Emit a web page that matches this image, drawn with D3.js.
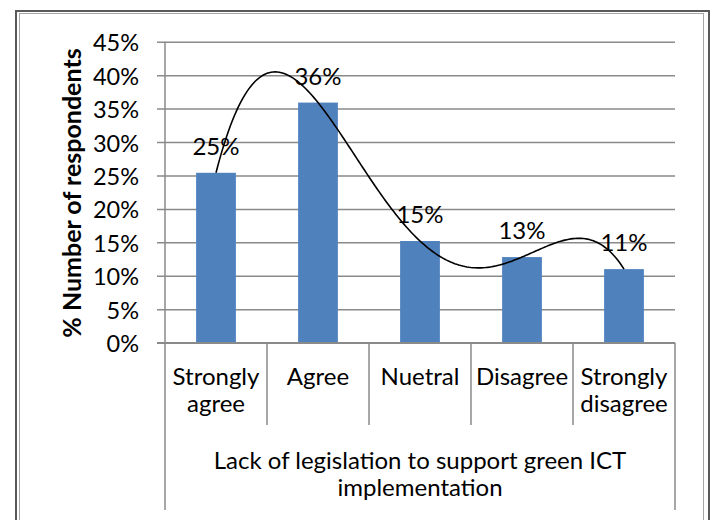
<!DOCTYPE html>
<html>
<head>
<meta charset="utf-8">
<script src="https://cdn.jsdelivr.net/npm/d3@7"></script>
<style>
html,body{margin:0;padding:0;background:#fff;}
svg{display:block;}
text{font-family:Lato,"Open Sans",sans-serif;fill:#000;}
</style>
</head>
<body>
<svg id="chart" width="717" height="520"></svg>
<script>
const categories = [["Strongly","agree"],["Agree"],["Nuetral"],["Disagree"],["Strongly","disagree"]];
const values = [25.4, 35.9, 15.2, 12.8, 11.0];
const labels = ["25%","36%","15%","13%","11%"];
const yTicks = [0,5,10,15,20,25,30,35,40,45];
const groupTitle = ["Lack of legislation to support green ICT","implementation"];
const yTitle = "% Number of respondents";

(function(){
const svg = d3.select("#chart");
const FS = 24;

// frame
svg.append("rect").attr("x",16).attr("y",11).attr("width",693).attr("height",520)
  .attr("fill","none").attr("stroke","#595959").attr("stroke-width",2);
svg.append("rect").attr("x",19.5).attr("y",13.5).attr("width",684).attr("height",520)
  .attr("fill","none").attr("stroke","#a6a6a6").attr("stroke-width",1);

const pL = 165, pR = 675, pT = 41.7, pB = 342.7;
const y = d3.scaleLinear().domain([0,45]).range([pB, pT]);
const x = d3.scaleBand().domain(d3.range(categories.length)).range([pL,pR]).paddingInner(0).paddingOuter(0);
const bw = x.bandwidth()*0.39;

// gridlines + ticks
const yAxis = d3.axisLeft(y).tickValues(yTicks).tickSize(-(pR-pL)).tickFormat(d=>d+"%").tickPadding(0);
const gy = svg.append("g").attr("transform",`translate(${pL},0)`).call(yAxis);
gy.select(".domain").remove();
gy.selectAll(".tick line").attr("stroke","#8a8a8a").attr("stroke-width",1.5).attr("x1",-8);
gy.selectAll(".tick text").attr("x",-26).attr("dy",null).attr("dominant-baseline","central")
  .style("font-size","23.5px").attr("fill","#000");

// bars
svg.append("g").selectAll("rect").data(values).join("rect")
  .attr("x",(d,i)=>x(i)+x.bandwidth()/2-bw/2)
  .attr("y",d=>y(d))
  .attr("width",bw)
  .attr("height",d=>y(0)-y(d))
  .attr("fill","#4f81bd");

// axis lines
const axisColor = "#8a8a8a";
svg.append("line").attr("x1",pL).attr("x2",pL).attr("y1",pT).attr("y2",510)
  .attr("stroke",axisColor).attr("stroke-width",1.5);
svg.append("line").attr("x1",pL-8).attr("x2",pR).attr("y1",pB).attr("y2",pB)
  .attr("stroke",axisColor).attr("stroke-width",1.5);
d3.range(1,categories.length+1).forEach(i=>{
  const xx = i<categories.length ? x(i) : pR;
  svg.append("line").attr("x1",xx).attr("x2",xx).attr("y1",pB)
    .attr("y2", i===categories.length ? 510 : 425)
    .attr("stroke",axisColor).attr("stroke-width",1.5);
});

// trendline (polynomial, order 4 through the data)
const n = values.length;
function poly(t){
  let s=0;
  for(let i=0;i<n;i++){
    let L=1;
    for(let j=0;j<n;j++){ if(j!==i) L*=(t-j)/(i-j); }
    s+=values[i]*L;
  }
  return s;
}
const ts = d3.range(0, n-1+1e-9, 0.02);
const xc = i => x(0)+x.bandwidth()/2 + i*x.bandwidth();
svg.append("path").datum(ts)
  .attr("d", d3.line().x(t=>xc(t)).y(t=>y(poly(t))))
  .attr("fill","none").attr("stroke","#000").attr("stroke-width",1.6);

// data labels
svg.append("g").selectAll("text").data(values).join("text")
  .attr("x",(d,i)=>x(i)+x.bandwidth()/2)
  .attr("y",d=>y(d)-18)
  .attr("text-anchor","middle")
  .style("font-size",FS+"px")
  .text((d,i)=>labels[i]);

// category labels
categories.forEach((c,i)=>{
  const t = svg.append("text").attr("text-anchor","middle").style("font-size",FS+"px");
  c.forEach((line,k)=>{
    t.append("tspan").attr("x",x(i)+x.bandwidth()/2).attr("y",384.5+k*27.5).text(line);
  });
});

// group title
const gt = svg.append("text").attr("text-anchor","middle").style("font-size",FS+"px");
groupTitle.forEach((line,k)=>{
  gt.append("tspan").attr("x",(pL+pR)/2).attr("y",468.5+k*27.5).text(line);
});

// y title
svg.append("text")
  .attr("transform","translate(81,193) rotate(-90)")
  .attr("text-anchor","middle")
  .style("font-size","25px").style("font-weight","bold")
  .text(yTitle);
})();
</script>
</body>
</html>
